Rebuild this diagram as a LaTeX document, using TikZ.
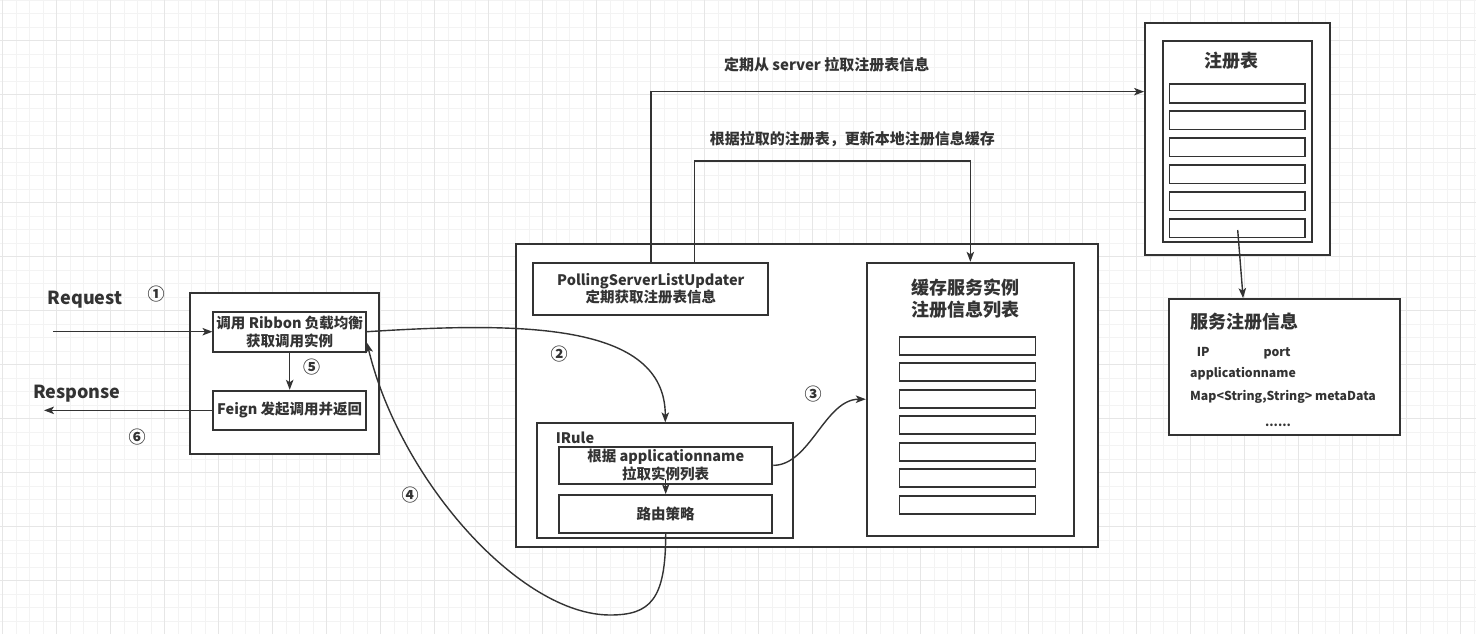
\documentclass[tikz,border=0pt]{standalone}
\usepackage{fontspec}
\setmainfont{Noto Sans CJK SC}
\usetikzlibrary{arrows.meta}
\definecolor{ink}{HTML}{333333}
\definecolor{gminorc}{HTML}{F3F3F3}
\definecolor{gmajorc}{HTML}{E6E6E6}
\begin{document}
\begin{tikzpicture}[x=1pt,y=-1pt,
  box/.style={draw=ink,line width=1.8pt,fill=white,inner sep=0pt,text=ink,align=center},
  rowbox/.style={draw=ink,line width=1.6pt,fill=white,inner sep=0pt,minimum height=18.4pt},
  conn/.style={draw=ink,line width=1.4pt,-{Stealth[length=10pt,width=7.5pt,inset=2.5pt]}},
  lbl/.style={text=ink,inner sep=0pt,align=center},
  fbody/.style={font=\fontsize{14.5}{17.7}\selectfont\bfseries},
  ftop/.style={font=\fontsize{15}{18}\selectfont\bfseries},
  fbig/.style={font=\fontsize{18}{22}\selectfont\bfseries},
  fsmall/.style={font=\fontsize{12.3}{15}\selectfont\bfseries},
  fnum/.style={font=\fontsize{17}{20}\selectfont\bfseries},
  gminor/.style={draw=gminorc,line width=1pt},
  gmajor/.style={draw=gmajorc,line width=1pt}]
% background and grid
\fill[white] (0,0) rectangle (1476,634);
\useasboundingbox (0,0) rectangle (1476,634);
\foreach \i in {0,...,109} {\draw[gminor] ({2.7+13.5*\i},0) -- ({2.7+13.5*\i},634);}
\foreach \i in {0,...,46} {\draw[gminor] (0,{0.2+13.5*\i}) -- (1476,{0.2+13.5*\i});}
\foreach \i in {0,...,27} {\draw[gmajor] ({2.7+54*\i},0) -- ({2.7+54*\i},634);}
\foreach \i in {0,...,10} {\draw[gmajor] (0,{40.7+54*\i}) -- (1476,{40.7+54*\i});}

% left group
\node[box,minimum width=189.3pt,minimum height=161.3pt] (leftbox) at (284.65,373.35) {};
\node[box,fbody,minimum width=152.7pt,minimum height=40pt] (call) at (289.7,331.7) {调用 Ribbon 负载均衡\\获取调用实例};
\node[box,fbody,minimum width=152.7pt,minimum height=39.3pt] (feign) at (289.7,410.35) {Feign 发起调用并返回};

% main box
\node[box,minimum width=582.3pt,minimum height=303pt] (main) at (806.85,395.5) {};
\node[box,fbody,minimum width=235pt,minimum height=52.3pt] (poll) at (650.8,288.85) {PollingServerListUpdater\\定期获取注册表信息};
\node[box,minimum width=256pt,minimum height=114.4pt] (irule) at (665.3,480.5) {};
\node[lbl,fbody,anchor=west] (irulelbl) at (555.7,438.3) {IRule};
\node[box,fbody,minimum width=213.3pt,minimum height=37.3pt] (apprule) at (665.7,465.35) {根据 applicationname\\拉取实例列表};
\node[box,fbody,minimum width=213.3pt,minimum height=38.3pt] (route) at (665.7,514.15) {路由策略};

% cache box
\node[box,minimum width=207.3pt,minimum height=273pt] (cache) at (970.35,399.2) {};
\node[lbl,fbig] (cachetitle) at (965,299) {缓存服务实例\\注册信息列表};
\foreach \k in {0,...,6} {\node[rowbox,minimum width=136pt,minimum height=18pt] (cr\k) at (967.3,{345.7+26.5*\k}) {};}

% registry
\node[box,minimum width=185pt,minimum height=232.3pt] (regout) at (1237.5,138.85) {};
\node[box,minimum width=149.6pt,minimum height=201pt] (regin) at (1237.5,141.2) {};
\node[lbl,fbig] (regtitle) at (1231.7,60.7) {注册表};
\foreach \k in {0,...,5} {\node[rowbox,minimum width=135.7pt] (rr\k) at (1237.2,{93.5+26.95*\k}) {};}

% service info
\node[box,minimum width=231pt,minimum height=136pt] (svc) at (1284.5,367) {};
\node[lbl,fbig,anchor=base west] (svctitle) at (1190,328.2) {服务注册信息};
\node[lbl,fsmall,anchor=base west] (ip) at (1196.7,356) {IP};
\node[lbl,fsmall,anchor=base west] (port) at (1263.3,356) {port};
\node[lbl,fsmall,anchor=base west] (appn) at (1190,377) {applicationname};
\node[lbl,fsmall,anchor=base west] (meta) at (1190,400.3) {Map<String,String> metaData};
\node[lbl,fsmall,anchor=base] (dots) at (1278,426) {......};

% free labels
\node[lbl,font=\fontsize{18}{22}\selectfont\bfseries,anchor=base west] (req) at (47.7,304) {Request};
\node[lbl,font=\fontsize{18}{22}\selectfont\bfseries,anchor=base west] (resp) at (33,398.3) {Response};
\node[lbl,ftop] (toplbl1) at (826.7,65) {定期从 server 拉取注册表信息};
\node[lbl,ftop] (toplbl2) at (852.3,139.3) {根据拉取的注册表，更新本地注册信息缓存};
\node[lbl,fnum] (n1) at (156,294) {①};
\node[lbl,fnum] (n2) at (559,354) {②};
\node[lbl,fnum] (n3) at (813,394) {③};
\node[lbl,fnum] (n4) at (410,495) {④};
\node[lbl,fnum] (n5) at (311.7,366.7) {⑤};
\node[lbl,fnum] (n6) at (137,436.7) {⑥};

% connectors
\coordinate (reqstart) at (53,331.7);
\coordinate (respend) at (44,410.35);
\coordinate (regpt) at (1237.7,230);
\draw[conn] (reqstart) -- (call.west);
\draw[conn] (feign.west) -- (respend);
\draw[conn] (call.south) -- (feign.north);
\draw[conn] (call.east) .. controls (520,322) and (665.3,322) .. (irule.north);
\draw[conn] (apprule.east) .. controls (810,465.35) and (825,399.2) .. (cache.west);
\draw[conn] (route.south) .. controls (665.7,600) and (650,615) .. (610,615) .. controls (520,615) and (400,480) .. ([yshift=-11pt]call.east);
\draw[conn] ([yshift=6pt]apprule.south) -- (route.north);
\draw[conn] (poll.north) |- ([yshift=47.2pt]regout.west);
\draw[conn] ([xshift=43.5pt]poll.north) -- ++(0,-101) -| (cache.north);
\draw[conn] (regpt) -- ([xshift=75pt]svc.north west);
\end{tikzpicture}
\end{document}
